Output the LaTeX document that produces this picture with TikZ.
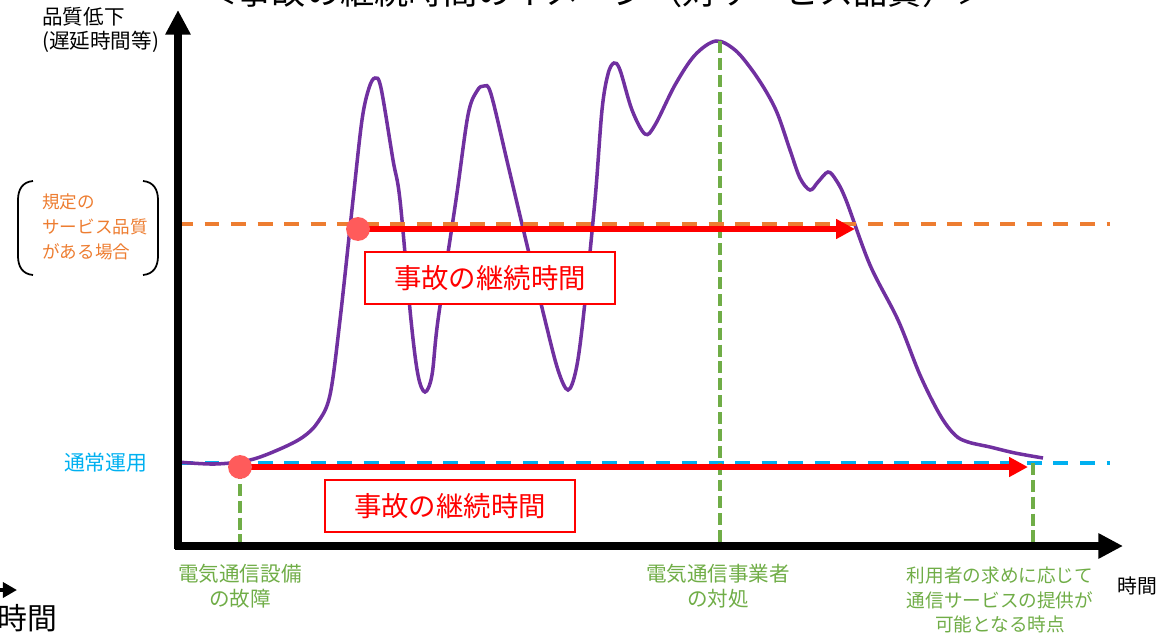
\documentclass[tikz,border=0pt]{standalone}
\usepackage{fontspec}
\setmainfont{Noto Sans CJK JP}
\usetikzlibrary{arrows.meta,positioning}

\definecolor{qpurple}{HTML}{7030A0}
\definecolor{qorange}{HTML}{ED7D31}
\definecolor{qblue}{HTML}{00B0F0}
\definecolor{qgreen}{HTML}{70AD47}
\definecolor{qdot}{HTML}{FF5B5B}

\tikzset{
  axis/.style={line width=4pt, -{Triangle[length=14pt,width=13.6pt]}},
  level/.style={line width=2.3pt, dash pattern=on 8.5pt off 6.6pt},
  event/.style={qgreen, line width=1.9pt, dash pattern=on 6.8pt off 2.8pt},
  span/.style={red, line width=3.7pt, -{Triangle[length=10.8pt,width=10.8pt]}},
  dot/.style={circle, fill=qdot, minimum size=13.6pt, inner sep=0pt},
  spanbox/.style={draw=red, fill=white, line width=0.9pt, text=red,
    minimum width=5cm, minimum height=1.05cm, font=\fontsize{15.6}{18}\selectfont},
  lbl/.style={inner sep=0pt, align=center},
}

\begin{document}
\begin{tikzpicture}[x=0.02cm, y=-0.02cm]
        \clip (0,0) rectangle (1161,636);
        \coordinate (O) at (178,546);
        \coordinate (ytip) at (178,10);
        \coordinate (xtip) at (1123,546);
        \coordinate (spec w) at (178,224);
        \coordinate (spec e) at (1110,224);
        \coordinate (norm w) at (178,463);
        \coordinate (norm e) at (1110,463);
        \coordinate (start1) at (358,229);
        \coordinate (start2) at (240,467);
        \coordinate (end1) at (855,229);
        \coordinate (end2) at (1028,467);
        \coordinate (resp) at (720,41);
        \coordinate (back) at (1033,463);

        % Reference levels
        \draw[level, qblue] (norm w) -- (norm e);

        % Quality curve
        \draw[qpurple, line width=2pt] plot [smooth, tension=0.55] coordinates {
            (178,462) (215,464) (250,460) (280,449) (303,437) (318,422) (330,395)
            (340,320) (353,200) (362,120) (369,88) (375,78) (381,88) (393,160) (400,200)
            (411,320) (418,375) (425,392) (432,375) (438,320) (456,200) (468,115)
            (477,91) (484,86) (491,94) (508,165) (522,224) (545,320) (558,370) (568,390)
            (576,370) (583,320) (595,200) (602,110) (608,74) (614,63) (620,70) (632,110)
            (645,134) (655,125) (675,85) (695,55) (716,41) (735,50) (752,70)
            (767,93) (778,115) (790,150) (800,178) (810,190) (818,182) (828,172)
            (836,180) (846,200) (870,265) (898,320) (920,375) (940,415) (955,435)
            (968,442) (990,447) (1015,453) (1043,458) };

        \draw[level, qorange] (spec w) -- (spec e);

        % Event markers
        \draw[event] (start2) -- (start2 |- O);
        \draw[event] (resp) -- (resp |- O);
        \draw[event] (back) -- (back |- O);

        % Duration arrows
        \draw[span] (start1) -- (end1);
        \draw[span] (start2) -- (end2);
        \foreach \p/\n in {start1/d1, start2/d2}
            \node[dot] (\n) at (\p) {};
        \node[spanbox] (box1) at (490,278) {事故の継続時間};
        \node[spanbox] (box2) at (450,506) {事故の継続時間};

        % Axes
        \draw[axis] (175,546) -- (xtip);
        \draw[axis] (178,549) -- (ytip);

        % Labels
        \node[lbl, anchor=base] (title) at (597,4) {\fontsize{19.5}{22}\selectfont ＜事故の継続時間のイメージ（対サービス品質）＞};
        \node[lbl, anchor=west, align=left, font=\fontsize{11.7}{13.6}\selectfont] (ylab) at (42,30) {品質低下\\(遅延時間等)};
        \node[lbl, anchor=west, align=left, text=qorange, font=\fontsize{10}{14.2}\selectfont] (spec) at (42,227) {規定の\\サービス品質\\がある場合};
        \draw[line width=1pt] (33,181) .. controls (22,182) and (18,190) .. (18,200) -- (18,256) .. controls (18,266) and (22,274) .. (33,275);
        \draw[line width=1pt] (143,181) .. controls (154,182) and (158,190) .. (158,200) -- (158,256) .. controls (158,266) and (154,274) .. (143,275);
        \node[lbl, anchor=east, text=qblue, font=\fontsize{11.9}{14}\selectfont] (norm) at (148,463) {通常運用};
        \node[lbl, text=qgreen, font=\fontsize{11.7}{14.2}\selectfont] (fault) at (240,586) {電気通信設備\\の故障};
        \node[lbl, text=qgreen, font=\fontsize{11.7}{14.2}\selectfont] (act) at (718,586) {電気通信事業者\\の対処};
        \node[lbl, text=qgreen, font=\fontsize{10.6}{13.9}\selectfont] (avail) at (1000,600) {利用者の求めに応じて\\通信サービスの提供が\\可能となる時点};
        \node[lbl, anchor=west, font=\fontsize{11.3}{13}\selectfont] (tlab) at (1117,586) {時間};

        % Legend fragment
        \coordinate (leg w) at (-10,590);
        \coordinate (leg e) at (17,590);
        \draw[line width=2pt, -{Triangle[length=8pt,width=8.5pt]}] (leg w) -- (leg e);
        \node[lbl, anchor=base west, font=\fontsize{17}{20}\selectfont] (leg) at (-3,629) {時間};
    \end{tikzpicture}
\end{document}
